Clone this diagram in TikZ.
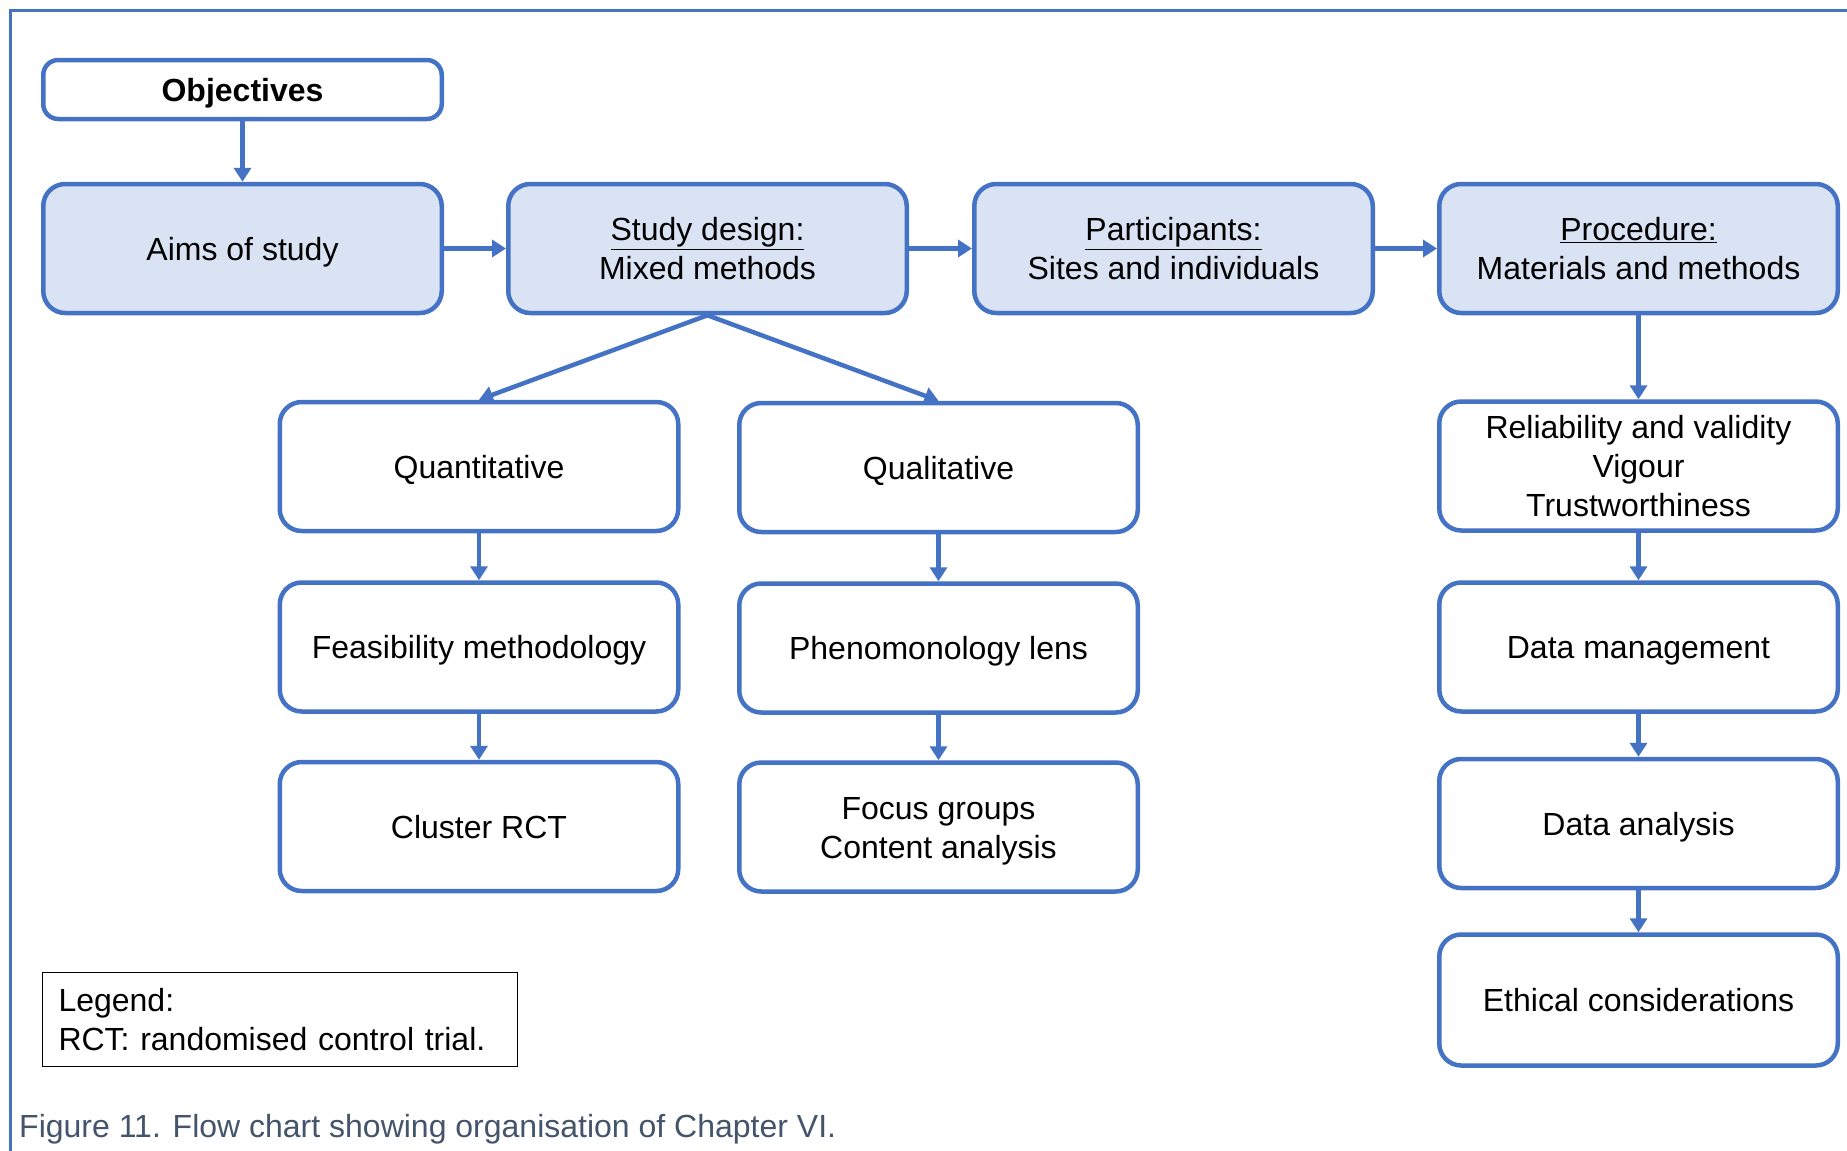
\documentclass[tikz,border=0pt]{standalone}
\usepackage{fontspec}
\setmainfont{Liberation Sans}
\usetikzlibrary{arrows.meta}
\definecolor{frameblue}{HTML}{4472C4}
\definecolor{fillblue}{HTML}{DAE3F3}
\definecolor{captiongray}{HTML}{44546A}
% invisible strut giving every box line the same ascent and descent
\newcommand\boxstrut{\rule[-7.7pt]{0pt}{39pt}}

\begin{document}
\begin{tikzpicture}[x=1pt,y=-1pt,
  boxtext/.style={font=\fontsize{32}{39}\selectfont},
  box/.style={boxtext, draw=frameblue, fill=white, line width=4.5pt, rounded corners=22pt,
    minimum width=398.5pt, minimum height=129pt, align=center, inner sep=0pt,
    execute at end node=\boxstrut},
  mainbox/.style={box, fill=fillblue},
  link/.style={draw=frameblue, line width=4.5pt, -{Triangle[length=14pt,width=17pt]}},
]
\useasboundingbox (0,0) rectangle (1847,1151);

% outer frame (left and top edges)
\draw[frameblue, line width=3.5pt] (10.5,1151) -- (10.5,10.5) -- (1847,10.5);

% top row
\node[box, minimum height=59pt, rounded corners=15pt, font=\fontsize{32}{39}\selectfont\bfseries]
  (obj) at (242.5,89.5) {Objectives};
\node[mainbox] (aims) at (242.5,248.5) {Aims of study};
\node[mainbox] (sd)   at (707.5,248.5) {\boxstrut\underline{Study design:}\\Mixed methods};
\node[mainbox] (part) at (1173.5,248.5) {\boxstrut\underline{Participants:}\\Sites and individuals};
\node[mainbox] (proc) at (1638.5,248.5) {\boxstrut\underline{Procedure:}\\Materials and methods};

% quantitative branch
\node[box] (quant)   at (479,466.5) {Quantitative};
\node[box] (feas)    at (479,647) {Feasibility methodology};
\node[box] (cluster) at (479,826.5) {Cluster RCT};

% qualitative branch
\node[box] (qual)  at (938.5,467.5) {Qualitative};
\node[box] (pheno) at (938.5,648) {Phenomonology lens};
\node[box] (focus) at (938.5,827) {\boxstrut Focus groups\\Content analysis};

% procedure column
\node[box] (rel) at (1638.5,466) {\boxstrut Reliability and validity\\Vigour\\Trustworthiness};
\node[box] (dm)  at (1638.5,647) {Data management};
\node[box] (da)  at (1638.5,823.5) {Data analysis};
\node[box, minimum height=131pt] (eth) at (1638.5,1000) {Ethical considerations};

% connectors
\draw[link] (obj) -- (aims);
\draw[link] (aims) -- (sd);
\draw[link] (sd) -- (part);
\draw[link] (part) -- (proc);
\draw[link] (sd.south) -- (quant.north);
\draw[link] (sd.south) -- (qual.north);
\draw[link] (quant) -- (feas);
\draw[link] (feas) -- (cluster);
\draw[link] (qual) -- (pheno);
\draw[link] (pheno) -- (focus);
\draw[link] (proc) -- (rel);
\draw[link] (rel) -- (dm);
\draw[link] (dm) -- (da);
\draw[link] (da) -- (eth);

% legend
\node[boxtext, draw=black, line width=1.5pt, anchor=north west, minimum width=475pt,
  minimum height=94pt, inner xsep=16pt, inner ysep=0pt, text width=443pt, align=left]
  (legend) at (41.75,971.75) {Legend:\\RCT: randomised control trial.};

% caption
\node[boxtext, anchor=base west, inner sep=0pt, text=captiongray]
  (caption) at (19,1137) {Figure 11. Flow chart showing organisation of Chapter VI.};
\end{tikzpicture}
\end{document}
